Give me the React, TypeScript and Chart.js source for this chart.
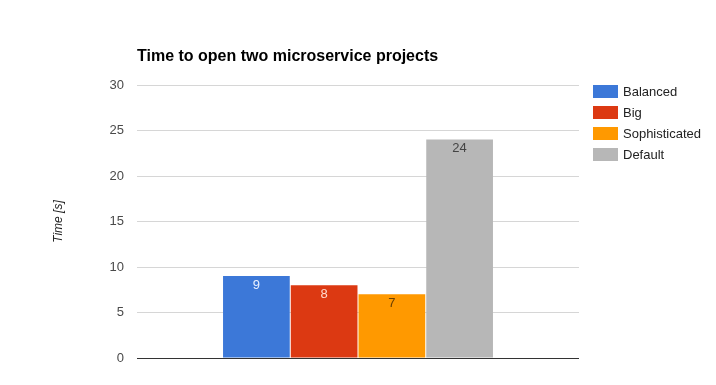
import React, { useEffect, useRef } from "react";
import { Chart, registerables } from "chart.js";

Chart.register(...registerables);

const categories = [""];
const seriesNames = ["Balanced", "Big", "Sophisticated", "Default"];
const seriesValues = [[9], [8], [7], [24]];
const seriesColors = ["#3c78d8", "#dc3912", "#ff9900", "#b7b7b7"];
const labelColors = ["#e8f0ff", "#ffd9cc", "#6b3f00", "#444444"];
const yTicks = [0, 5, 10, 15, 20, 25, 30];
const chartTitle = "Time to open two microservice projects";
const yTitle = "Time [s]";

const FONT = "Arial, 'Liberation Sans', sans-serif";

const decorPlugin = {
  id: "decor",
  afterDatasetsDraw(chart: any) {
    const ctx = chart.ctx;
    ctx.save();
    // value labels
    ctx.font = `13px ${FONT}`;
    ctx.textAlign = "center";
    ctx.textBaseline = "middle";
    chart.data.datasets.forEach((ds: any, i: number) => {
      const meta = chart.getDatasetMeta(i);
      meta.data.forEach((bar: any, j: number) => {
        ctx.fillStyle = labelColors[i];
        ctx.fillText(String(ds.data[j]), bar.x, bar.y + 9);
      });
    });
    // title
    const area = chart.chartArea;
    ctx.font = `bold 16px ${FONT}`;
    ctx.textAlign = "left";
    ctx.fillStyle = "#000000";
    ctx.fillText(chartTitle, area.left, 57);
    // legend
    ctx.font = `13px ${FONT}`;
    chart.data.datasets.forEach((ds: any, i: number) => {
      const y = 85 + i * 21;
      ctx.fillStyle = ds.backgroundColor;
      ctx.fillRect(area.right + 14, y, 25, 13);
      ctx.fillStyle = "#222222";
      ctx.fillText(ds.label, area.right + 44, y + 7);
    });
    ctx.restore();
  },
};

export default function App() {
  const ref = useRef<HTMLCanvasElement>(null);
  useEffect(() => {
    document.body.style.margin = "0";
    const chart = new Chart(ref.current!, {
      type: "bar",
      data: {
        labels: categories,
        datasets: seriesNames.map((name, i) => ({
          label: name,
          data: seriesValues[i],
          backgroundColor: seriesColors[i],
          categoryPercentage: 0.613,
          barPercentage: 0.985,
        })),
      },
      options: {
        animation: false,
        responsive: false,
        layout: { padding: { left: 47, top: 85, bottom: 27, right: 137 } },
        plugins: {
          legend: { display: false },
          title: { display: false },
          tooltip: { enabled: false },
        },
        scales: {
          x: { display: false },
          y: {
            min: 0,
            max: 30,
            afterFit(scale: any) {
              scale.width = 90;
            },
            afterBuildTicks(scale: any) {
              scale.ticks = yTicks.map((v) => ({ value: v }));
            },
            border: { display: false },
            grid: {
              drawTicks: false,
              color: (c: any) => (c.tick && c.tick.value === 0 ? "#333333" : "#d6d6d6"),
            },
            ticks: {
              padding: 13,
              color: "#4a4a4a",
              font: { family: FONT, size: 13 },
            },
            title: {
              display: true,
              text: yTitle,
              color: "#222222",
              font: { family: FONT, size: 12, style: "italic" },
            },
          },
        },
      },
      plugins: [decorPlugin],
    });
    return () => chart.destroy();
  }, []);
  return (
    <div style={{ width: 716, height: 385, background: "#fff" }}>
      <canvas ref={ref} width={716} height={385} style={{ display: "block" }} />
    </div>
  );
}
